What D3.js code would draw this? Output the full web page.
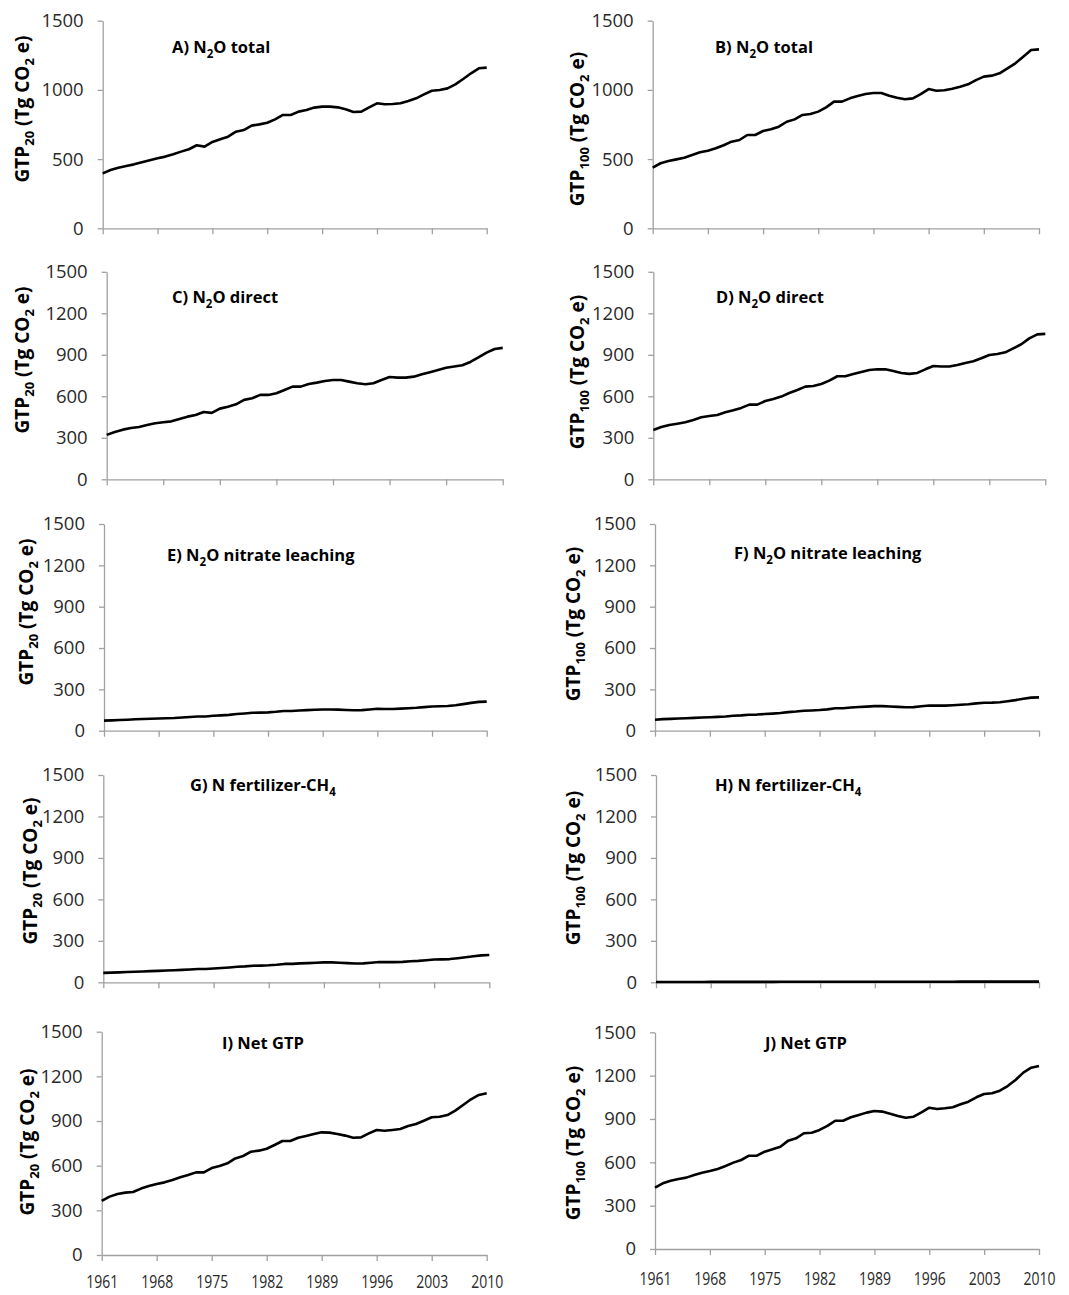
<!DOCTYPE html>
<html>
<head>
<meta charset="utf-8">
<script src="https://cdn.jsdelivr.net/npm/d3@7"></script>
<style>
  body { margin: 0; background: #fff; }
  text { font-family: "Open Sans", "Noto Sans", sans-serif; }
  .axis path, .axis line { stroke: #a0a0a0; stroke-width: 1.3px; }
  .axis text { fill: #2a2a2a; font-size: 18.5px; font-family: "Open Sans", sans-serif; }
  .x-axis text { font-size: 17.5px; }
</style>
</head>
<body>
<div id="chart-area"></div>
<script>
// years on the x axis
var years = d3.range(1961, 2011);
var xTickYears = [1961, 1968, 1975, 1982, 1989, 1996, 2003, 2010];
var yTicksTop = [0, 500, 1000, 1500];
var yTicks = [0, 300, 600, 900, 1200, 1500];

// series values (Tg CO2 e), 1961..2010
var gtp20Total = [397, 421, 438, 450, 462, 477, 491, 506, 518, 535, 554, 571, 600, 590, 624, 643, 662, 698, 710, 742,
  751, 763, 787, 819, 819, 843, 855, 872, 879, 879, 874, 860, 840, 843, 874, 903, 896, 898, 903, 920,
  939, 968, 994, 999, 1011, 1040, 1079, 1120, 1156, 1161];
var gtp100Total = [438, 470, 486, 498, 510, 530, 549, 561, 578, 600, 626, 638, 674, 674, 703, 715, 734, 770, 787, 819,
  826, 843, 874, 915, 915, 939, 956, 970, 978, 978, 958, 944, 932, 939, 970, 1006, 994, 997, 1009, 1023,
  1040, 1071, 1096, 1103, 1120, 1156, 1192, 1240, 1288, 1293];
var gtp20Direct = [321, 342, 359, 371, 378, 393, 405, 412, 419, 436, 453, 465, 487, 480, 511, 525, 542, 574, 586, 610,
  610, 622, 646, 670, 670, 689, 699, 711, 718, 718, 706, 694, 687, 694, 718, 740, 735, 735, 742, 759,
  774, 790, 807, 815, 824, 848, 882, 916, 942, 950];
var gtp100Direct = [357, 378, 393, 402, 412, 429, 448, 458, 465, 484, 499, 516, 540, 540, 566, 581, 598, 624, 646, 670,
  675, 689, 713, 745, 745, 762, 776, 790, 795, 795, 783, 769, 762, 769, 795, 819, 815, 815, 827, 841,
  853, 875, 899, 906, 918, 947, 976, 1019, 1048, 1051];
var gtp20Leach = [73, 75, 78, 80, 83, 85, 87, 89, 90, 92, 96, 99, 103, 103, 108, 111, 115, 121, 125, 130,
  131, 133, 137, 143, 143, 147, 149, 152, 154, 154, 153, 150, 148, 149, 154, 159, 158, 158, 160, 163,
  166, 171, 176, 177, 179, 185, 193, 202, 209, 211];
var gtp100Leach = [80, 84, 86, 88, 90, 93, 96, 98, 100, 103, 108, 111, 116, 117, 121, 124, 128, 135, 139, 145,
  147, 150, 155, 163, 163, 168, 172, 175, 178, 178, 176, 173, 170, 171, 177, 183, 182, 182, 185, 188,
  192, 198, 203, 204, 207, 214, 222, 232, 240, 242];
var gtp20Ch4 = [68, 70, 72, 74, 76, 78, 81, 83, 85, 87, 90, 93, 96, 96, 100, 103, 107, 112, 115, 120,
  121, 123, 127, 133, 133, 137, 139, 142, 144, 144, 142, 139, 136, 137, 142, 147, 146, 146, 148, 152,
  155, 160, 165, 166, 168, 174, 181, 189, 195, 198];
var gtp100Ch4 = [2, 2, 2, 2, 2, 2, 2, 3, 3, 3, 3, 3, 3, 3, 3, 3, 4, 4, 4, 4,
  4, 4, 4, 4, 4, 4, 4, 4, 4, 4, 4, 4, 4, 4, 4, 4, 4, 4, 4, 5,
  5, 5, 5, 5, 5, 5, 5, 5, 5, 5];
var gtp20Net = [363, 392, 410, 419, 423, 446, 463, 477, 488, 504, 522, 537, 555, 555, 584, 598, 616, 649, 665, 694,
  701, 714, 739, 766, 766, 788, 799, 813, 824, 822, 813, 802, 788, 790, 817, 840, 835, 840, 846, 866,
  880, 902, 925, 929, 940, 970, 1008, 1046, 1075, 1086];
var gtp100Net = [425, 455, 473, 485, 494, 512, 528, 540, 554, 575, 598, 616, 646, 646, 674, 690, 708, 750, 766, 801,
  805, 824, 852, 888, 888, 912, 928, 944, 955, 951, 937, 921, 909, 916, 946, 978, 969, 974, 981, 1002,
  1020, 1050, 1073, 1078, 1096, 1128, 1170, 1221, 1255, 1267];

// panel titles: [prefix, subscript, suffix]
var titles = [
  ['A) N', '2', 'O total'], ['B) N', '2', 'O total'],
  ['C) N', '2', 'O direct'], ['D) N', '2', 'O direct'],
  ['E) N', '2', 'O nitrate leaching'], ['F) N', '2', 'O nitrate leaching'],
  ['G) N fertilizer-CH', '4', ''], ['H) N fertilizer-CH', '4', ''],
  ['I) Net GTP', '', ''], ['J) Net GTP', '', '']
];
var horizons = ['20', '100'];
var series = [gtp20Total, gtp100Total, gtp20Direct, gtp100Direct, gtp20Leach, gtp100Leach,
  gtp20Ch4, gtp100Ch4, gtp20Net, gtp100Net];

// layout of each panel (pixels): plot box, title anchor, y label centre
var layout = [
  {l: 102.7, t: 20.7, r: 486.7, b: 228.3, tx: 172, ty: 47, lx: 22, ly: 109},
  {l: 652.7, t: 20.7, r: 1039, b: 228.3, tx: 715, ty: 47, lx: 577, ly: 129},
  {l: 106.7, t: 271.8, r: 502.7, b: 479.3, tx: 172, ty: 297, lx: 22, ly: 360},
  {l: 653.3, t: 271.8, r: 1045.3, b: 479.3, tx: 716, ty: 297, lx: 577, ly: 372},
  {l: 104, t: 524, r: 486.7, b: 730.7, tx: 167, ty: 555, lx: 26, ly: 612},
  {l: 655, t: 524, r: 1039, b: 730.7, tx: 734, ty: 553, lx: 573, ly: 624},
  {l: 103.3, t: 775, r: 489.3, b: 982.3, tx: 190, ty: 785, lx: 30, ly: 871},
  {l: 656, t: 775, r: 1039, b: 982.3, tx: 715, ty: 785, lx: 573, ly: 868},
  {l: 101.7, t: 1031.7, r: 486.7, b: 1255, tx: 222, ty: 1043, lx: 27, ly: 1142},
  {l: 655, t: 1032.3, r: 1039, b: 1249, tx: 765, ty: 1043, lx: 573, ly: 1143}
];

var svg = d3.select('#chart-area')
  .append('svg')
  .attr('width', 1069)
  .attr('height', 1295);

series.forEach(function (values, i) {
  var p = layout[i];
  var g = svg.append('g');

  var x = d3.scaleLinear()
    .domain([1961, 2010])
    .range([p.l, p.r]);

  var y = d3.scaleLinear()
    .domain([0, 1500])
    .range([p.b, p.t]);

  // y axis
  var yAxisCall = d3.axisLeft(y)
    .tickValues(i < 2 ? yTicksTop : yTicks)
    .tickFormat(d3.format('d'))
    .tickSize(5)
    .tickSizeOuter(0)
    .tickPadding(14);
  g.append('g')
    .attr('class', 'axis y-axis')
    .attr('transform', 'translate(' + p.l + ', 0)')
    .call(yAxisCall);

  // x axis, year labels only on the bottom row
  var bottomRow = i >= 8;
  var xAxisCall = d3.axisBottom(x)
    .tickValues(xTickYears)
    .tickSize(6)
    .tickSizeOuter(0)
    .tickPadding(i === 8 ? 15 : 18)
    .tickFormat(function (d) { return bottomRow ? d : ''; });
  var xg = g.append('g')
    .attr('class', 'axis x-axis')
    .attr('transform', 'translate(0, ' + p.b + ')')
    .call(xAxisCall);
  if (bottomRow) {
    xg.selectAll('text')
      .attr('textLength', 32)
      .attr('lengthAdjust', 'spacingAndGlyphs');
  }

  // the line
  var line = d3.line()
    .x(function (d, k) { return x(years[k]); })
    .y(function (d) { return y(d); });
  g.append('path')
    .datum(values)
    .attr('d', line)
    .attr('fill', 'none')
    .attr('stroke', '#000')
    .attr('stroke-width', 2.6)
    .attr('stroke-linejoin', 'round');

  // panel title
  var t = titles[i];
  var title = g.append('text')
    .attr('x', p.tx)
    .attr('y', p.ty)
    .attr('dy', '0.35em')
    .attr('font-size', '16.5px')
    .attr('font-weight', 'bold')
    .attr('fill', '#000');
  title.append('tspan').text(t[0]);
  if (t[1]) {
    title.append('tspan').attr('font-size', '11.5px').attr('dy', 5).text(t[1]);
    title.append('tspan').attr('dy', -5).text(t[2]);
  }

  // y axis label
  var ylab = g.append('text')
    .attr('transform', 'translate(' + p.lx + ', ' + p.ly + ') rotate(-90)')
    .attr('text-anchor', 'middle')
    .attr('dy', '0.35em')
    .attr('font-size', '19px')
    .attr('font-weight', 'bold')
    .attr('fill', '#000');
  ylab.append('tspan').text('GTP');
  ylab.append('tspan').attr('font-size', '13px').attr('dy', 5).text(horizons[i % 2]);
  ylab.append('tspan').attr('dy', -5).text(' (Tg CO');
  ylab.append('tspan').attr('font-size', '13px').attr('dy', 5).text('2');
  ylab.append('tspan').attr('dy', -5).text(' e)');
});
</script>
</body>
</html>
